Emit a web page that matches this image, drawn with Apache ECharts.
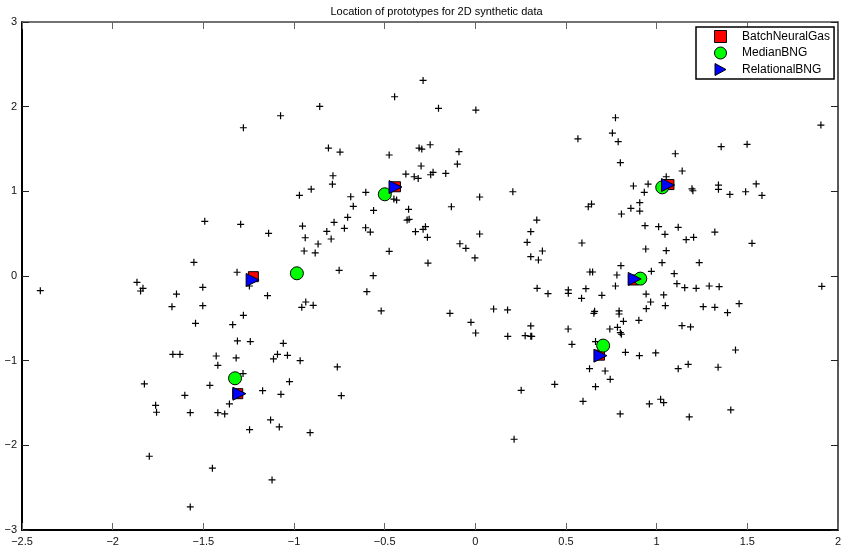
<!DOCTYPE html>
<html>
<head>
<meta charset="utf-8">
<script src="https://cdn.jsdelivr.net/npm/echarts@6/dist/echarts.min.js"></script>
<style>
html,body{margin:0;padding:0;background:#fff;}
#chart{width:844px;height:550px;}
</style>
</head>
<body>
<div id="chart"></div>
<script>
// ---- data ----
const titleText = 'Location of prototypes for 2D synthetic data';
const xTicks = [-2.5, -2, -1.5, -1, -0.5, 0, 0.5, 1, 1.5, 2];
const yTicks = [-3, -2, -1, 0, 1, 2, 3];

const dataX = [
-1.074,-1.279,-0.288,-0.445,-0.858,-0.203,0.003,0.566,-0.810,-0.746,
-0.475,-0.310,-0.295,-0.249,-0.090,-0.299,-0.099,-0.785,-0.383,-0.337,
-0.315,-0.246,-0.233,-0.163,-0.788,-0.905,0.207,-0.604,1.906,0.773,
0.756,0.788,1.356,1.499,1.103,0.800,1.141,1.053,0.872,0.953,
1.195,1.200,1.341,1.341,1.549,0.932,1.404,1.491,1.581,0.641,
0.623,0.907,0.858,0.907,0.806,0.936,1.011,1.119,1.046,1.321,
1.204,1.163,0.588,1.526,0.940,1.053,1.030,1.235,0.803,0.971,
0.632,0.647,0.781,1.097,0.773,1.112,1.155,1.218,1.290,1.345,
1.911,0.610,0.698,0.586,0.942,1.039,0.967,1.048,0.943,1.257,
1.321,1.455,1.391,0.658,0.654,0.793,0.793,0.817,0.902,0.742,
0.784,0.800,0.806,1.140,1.187,0.512,0.533,0.663,0.828,0.905,
0.995,1.435,0.630,0.716,0.744,0.663,0.594,0.799,0.960,1.022,
1.039,1.119,1.174,1.339,1.180,1.409,-0.970,-0.687,-0.673,-0.561,
-0.704,-0.779,-0.722,-0.819,-0.795,-0.953,-0.938,-0.944,-0.867,-0.883,
-0.605,-0.579,-0.449,-0.434,-0.368,-0.376,-0.365,-0.330,-0.288,-0.275,
-0.264,-0.132,0.024,0.024,-0.085,-0.052,-0.002,-0.475,-0.261,0.339,
0.306,0.286,0.370,0.306,0.348,-0.751,-0.563,-0.598,-0.519,0.341,
0.401,0.513,0.513,0.101,0.178,-0.140,-0.024,0.002,0.179,0.275,
0.306,0.311,0.306,-0.935,-0.957,-0.894,-0.966,-0.761,-0.739,-0.911,
0.253,0.438,0.214,-1.668,-1.629,-1.429,-1.420,-1.319,-1.113,-1.091,
-1.036,-1.281,-1.825,-1.464,-1.602,-1.763,-1.758,-1.572,-1.420,-1.382,
-1.356,-1.173,-1.072,-1.025,-1.129,-1.081,-1.245,-1.798,-1.450,-1.121,
-1.572,-1.492,-1.294,-1.140,-1.552,-1.314,-2.399,-1.866,-1.833,-1.846,
-1.648,-1.673,-1.503,-1.503,-1.543,-1.279,-1.338,-1.146,-1.246,-1.312,
-1.241,-1.059
];
const dataY = [
1.893,1.751,2.310,2.117,2.003,1.980,1.960,1.620,1.511,1.464,
1.429,1.511,1.499,1.550,1.468,1.299,1.322,1.184,1.204,1.172,
1.153,1.196,1.224,1.212,1.085,1.026,0.995,0.988,1.783,1.869,
1.688,1.586,1.527,1.555,1.444,1.338,1.240,1.172,1.063,1.086,
1.030,1.007,1.074,1.024,1.088,0.988,0.964,0.995,0.952,0.850,
0.818,0.866,0.799,0.767,0.732,0.594,0.582,0.575,0.492,0.519,
0.457,0.429,0.390,0.386,0.319,0.299,0.157,0.157,0.122,0.055,
0.047,0.047,0.012,0.027,-0.118,-0.091,-0.138,-0.146,-0.118,-0.126,
-0.122,-0.150,-0.228,-0.264,-0.213,-0.224,-0.307,-0.350,-0.386,-0.362,
-0.370,-0.327,-0.433,-0.417,-0.441,-0.413,-0.449,-0.535,-0.523,-0.626,
-0.606,-0.669,-0.688,-0.587,-0.602,-0.626,-0.807,-0.775,-0.901,-0.941,
-0.909,-0.874,-1.094,-1.122,-1.220,-1.307,-1.480,-1.629,-1.511,-1.456,
-1.496,-1.094,-1.043,-1.078,-1.665,-1.582,0.953,0.936,0.823,0.775,
0.693,0.634,0.563,0.527,0.437,0.590,0.452,0.295,0.378,0.272,
0.570,0.519,0.909,0.897,0.787,0.661,0.669,0.523,0.551,0.582,
0.457,0.818,0.933,0.496,0.381,0.327,0.213,0.291,0.153,0.661,
0.523,0.398,0.295,0.228,0.189,0.067,0.004,-0.185,-0.413,-0.146,
-0.209,-0.165,-0.205,-0.390,-0.401,-0.441,-0.547,-0.673,-0.712,-0.705,
-0.712,-0.712,-0.590,-0.307,-0.370,-0.346,-1.000,-1.074,-1.413,-1.850,
-1.350,-1.279,-1.928,-0.925,-0.925,-0.945,-1.055,-0.968,-0.980,-0.925,
-0.937,-1.153,-1.275,-1.291,-1.409,-1.527,-1.609,-1.614,-1.614,-1.629,
-1.511,-1.354,-1.397,-1.248,-1.700,-1.783,-1.815,-2.129,-2.270,-2.409,
-2.727,0.646,0.610,0.504,0.162,0.044,-0.173,-0.075,-0.146,-0.177,
-0.213,-0.362,-0.134,-0.350,-0.559,-0.465,-0.575,-0.232,-0.118,-0.767,
-0.775,-0.795
];

const bngX = [-1.224, -0.440, 1.068, 0.872, 0.685, -1.310];
const bngY = [-0.008, 1.054, 1.080, -0.047, -0.935, -1.390];
const medX = [-0.984, -0.499, 1.031, 0.910, 0.705, -1.325];
const medY = [0.032, 0.965, 1.047, -0.031, -0.822, -1.208];
const relX = [-1.228, -0.440, 1.063, 0.879, 0.690, -1.301];
const relY = [-0.047, 1.050, 1.074, -0.035, -0.941, -1.390];

const seriesNames = ['BatchNeuralGas', 'MedianBNG', 'RelationalBNG'];

// ---- build ----
const zip = (xs, ys) => xs.map((x, i) => [x, ys[i]]);
const FONT = '"Liberation Sans", Arial, Helvetica, sans-serif';
const fmt = v => String(v).replace('-', '\u2212');

const chart = echarts.init(document.getElementById('chart'), null, {renderer: 'canvas'});
const gridLeft = 22, gridTop = 22, gridRight = 3, gridBottom = 20;

const iconStyle = {borderColor: '#000', borderWidth: 1, opacity: 1};

chart.setOption({
  animation: false,
  backgroundColor: '#fff',
  textStyle: {fontFamily: FONT},
  title: {
    text: titleText,
    left: 431.5,
    textAlign: 'center',
    top: 1,
    textStyle: {fontSize: 11, fontWeight: 'normal', color: '#000', fontFamily: FONT}
  },
  legend: {
    data: [
      {name: seriesNames[0], icon: 'path://M1,1L9,1L9,9L1,9Z', itemStyle: Object.assign({color: '#ff0000'}, iconStyle)},
      {name: seriesNames[1], icon: 'circle', itemStyle: Object.assign({color: '#00ff00'}, iconStyle)},
      {name: seriesNames[2], icon: 'path://M0,0L11,6L0,12Z', itemStyle: Object.assign({color: '#0000ff'}, iconStyle)}
    ],
    orient: 'vertical',
    left: 696,
    top: 27,
    padding: [3, 4, 3, 18],
    itemWidth: 13,
    itemHeight: 12,
    itemGap: 3.5,
    backgroundColor: '#fff',
    borderColor: '#000',
    borderWidth: 1.5,
    borderRadius: 0,
    selectedMode: false,
    textStyle: {fontSize: 12, color: '#000', fontFamily: FONT, padding: [0, 0, 0, 10]}
  },
  grid: {left: gridLeft, top: gridTop, right: gridRight, bottom: gridBottom, containLabel: false},
  xAxis: [{
    type: 'value', position: 'bottom', min: -2.5, max: 2, interval: 0.5,
    axisLine: {show: true, onZero: false, lineStyle: {color: '#000', width: 2}},
    axisTick: {show: true, inside: true, length: 7, lineStyle: {color: '#666', width: 1}},
    axisLabel: {show: true, margin: 6, fontSize: 11, color: '#111', fontFamily: FONT,
      formatter: fmt, showMinLabel: true, showMaxLabel: true, hideOverlap: false},
    splitLine: {show: false}
  }, {
    type: 'value', position: 'top', min: -2.5, max: 2, interval: 0.5,
    axisLine: {show: true, onZero: false, lineStyle: {color: '#444', width: 1.5}},
    axisTick: {show: true, inside: true, length: 7, lineStyle: {color: '#666', width: 1}},
    axisLabel: {show: false},
    splitLine: {show: false}
  }],
  yAxis: [{
    type: 'value', position: 'left', min: -3, max: 3, interval: 1,
    axisLine: {show: true, onZero: false, lineStyle: {color: '#000', width: 2}},
    axisTick: {show: true, inside: true, length: 7, lineStyle: {color: '#222', width: 1}},
    axisLabel: {show: true, margin: 5, fontSize: 11, color: '#111', fontFamily: FONT,
      formatter: fmt, showMinLabel: true, showMaxLabel: true},
    splitLine: {show: false}
  }, {
    type: 'value', position: 'right', min: -3, max: 3, interval: 1,
    axisLine: {show: true, onZero: false, lineStyle: {color: '#222', width: 1.5}},
    axisTick: {show: true, inside: true, length: 7, lineStyle: {color: '#222', width: 1}},
    axisLabel: {show: false},
    splitLine: {show: false}
  }],
  series: [{
    name: 'data',
    type: 'scatter',
    symbol: 'path://M0,5L10,5M5,0L5,10',
    symbolSize: 7,
    itemStyle: {color: 'rgba(0,0,0,0)', borderColor: '#000', borderWidth: 1.2, opacity: 1},
    emphasis: {disabled: true},
    silent: true,
    data: zip(dataX, dataY)
  }, {
    name: seriesNames[0],
    type: 'scatter',
    symbol: 'rect',
    symbolSize: 10,
    itemStyle: {color: '#ff0000', borderColor: '#000', borderWidth: 1, opacity: 1},
    emphasis: {disabled: true},
    data: zip(bngX, bngY)
  }, {
    name: seriesNames[1],
    type: 'scatter',
    symbol: 'circle',
    symbolSize: 13,
    itemStyle: {color: '#00ff00', borderColor: '#000', borderWidth: 1, opacity: 1},
    emphasis: {disabled: true},
    data: zip(medX, medY)
  }, {
    name: seriesNames[2],
    type: 'scatter',
    symbol: 'triangle',
    symbolRotate: -90,
    symbolSize: 13,
    itemStyle: {color: '#0000ff', borderColor: '#000', borderWidth: 1, opacity: 1},
    emphasis: {disabled: true},
    data: zip(relX, relY)
  }]
});
</script>
</body>
</html>
